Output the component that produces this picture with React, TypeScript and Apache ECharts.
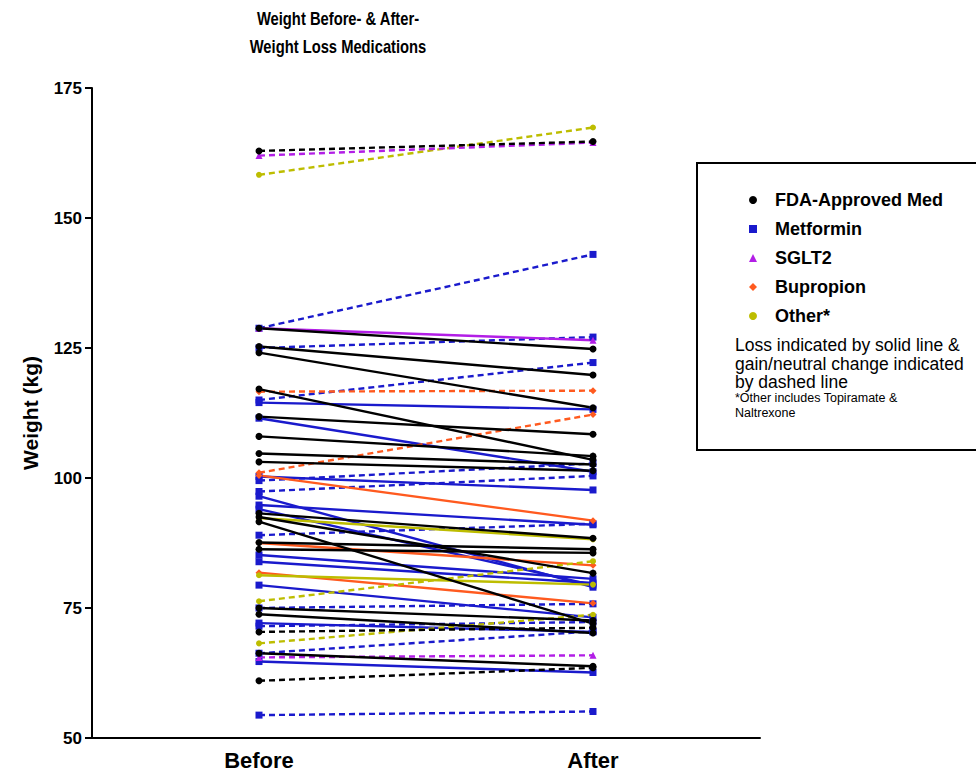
import React, { useEffect, useRef } from "react";
import * as echarts from "echarts";

const categories = ["Before", "After"];
const yTicks = [50, 75, 100, 125, 150, 175];

const groupNames = ["FDA-Approved Med", "Metformin", "SGLT2", "Bupropion", "Other*"];

const fdaBefore = [162.9, 128.8, 125.3, 124.1, 117.1, 111.8, 108.0, 104.7, 103.1, 93.2, 92.5, 91.6, 87.6, 86.3, 75.0, 73.8, 70.4, 66.3, 61.0];
const fdaAfter = [164.7, 124.8, 119.8, 113.5, 103.5, 108.4, 104.2, 102.6, 101.4, 88.4, 81.7, 72.0, 86.3, 85.6, 72.6, 70.2, 71.2, 63.8, 63.5];

const metBefore = [128.8, 125.0, 115.0, 114.5, 111.5, 100.3, 99.5, 97.4, 96.5, 94.8, 94.0, 89.0, 85.2, 83.9, 79.4, 75.0, 72.1, 71.5, 66.3, 64.7, 54.4];
const metAfter = [143.0, 127.1, 122.2, 113.2, 101.2, 97.7, 102.8, 100.4, 79.0, 91.0, 79.4, 91.2, 80.6, 79.8, 73.2, 75.8, 70.4, 72.3, 70.5, 62.6, 55.1];

const sgltBefore = [162.0, 128.8, 65.5];
const sgltAfter = [164.5, 126.5, 65.9];

const bupBefore = [116.6, 101.0, 100.5, 87.5, 81.8];
const bupAfter = [116.8, 112.2, 91.8, 83.2, 75.9];

const otherBefore = [158.3, 92.3, 81.3, 76.3, 68.2];
const otherAfter = [167.4, 88.2, 79.5, 84.0, 73.7];

const titleLines = ["Weight Before- & After-", "Weight Loss Medications"];
const noteLines = [
  "Loss indicated by solid line &",
  "gain/neutral change indicated",
  "by dashed line",
];
const footLines = ["*Other includes Topiramate &", "Naltrexone"];

const FONT = "'Liberation Sans', Arial, Helvetica, sans-serif";

const groups = [
  { name: groupNames[1], before: metBefore, after: metAfter, color: "#1a1acc", symbol: "rect", size: 7 },
  { name: groupNames[3], before: bupBefore, after: bupAfter, color: "#ff5a1f", symbol: "diamond", size: 7 },
  { name: groupNames[4], before: otherBefore, after: otherAfter, color: "#bdbd00", symbol: "circle", size: 6 },
  { name: groupNames[2], before: sgltBefore, after: sgltAfter, color: "#b21ee6", symbol: "triangle", size: 7 },
  { name: groupNames[0], before: fdaBefore, after: fdaAfter, color: "#000000", symbol: "circle", size: 7 },
];

export default function App() {
  const ref = useRef<HTMLDivElement>(null);
  useEffect(() => {
    if (!ref.current) return;
    const chart = echarts.init(ref.current, null, { renderer: "svg" });
    const series: any[] = [];
    groups.forEach((g) => {
      g.before.forEach((b, i) => {
        const a = g.after[i];
        series.push({
          type: "line",
          name: g.name,
          data: [b, a],
          symbol: g.symbol,
          symbolSize: g.size,
          showSymbol: true,
          color: g.color,
          itemStyle: { color: g.color },
          lineStyle: { color: g.color, width: 2.4, type: a >= b ? [6, 4] : "solid" },
          emphasis: { disabled: true },
          silent: true,
        });
      });
    });
    const legendIcons: Record<string, string> = {
      "FDA-Approved Med": "circle",
      Metformin: "rect",
      SGLT2: "triangle",
      Bupropion: "diamond",
      "Other*": "circle",
    };
    const graphics: any[] = [];
    titleLines.forEach((t, i) => {
      graphics.push({
        type: "text",
        x: 338,
        y: 18 + i * 28,
        scaleX: 0.82,
        style: {
          text: t,
          font: `bold 18px ${FONT}`,
          fill: "#000",
          textAlign: "center",
          textVerticalAlign: "middle",
        },
      });
    });
    graphics.push({
      type: "rect",
      shape: { x: 697, y: 163, width: 300, height: 287 },
      style: { fill: "none", stroke: "#000", lineWidth: 2 },
      z: 10,
    });
    noteLines.forEach((t, i) => {
      graphics.push({
        type: "text",
        x: 735,
        y: 345 + i * 18.5,
        style: { text: t, font: `17.5px ${FONT}`, fill: "#000", textVerticalAlign: "middle" },
      });
    });
    footLines.forEach((t, i) => {
      graphics.push({
        type: "text",
        x: 735,
        y: 398 + i * 14.5,
        style: { text: t, font: `12.5px ${FONT}`, fill: "#000", textVerticalAlign: "middle" },
      });
    });
    chart.setOption({
      animation: false,
      backgroundColor: "#fff",
      grid: { left: 92, top: 88, width: 668, height: 650 },
      legend: {
        orient: "vertical",
        left: 744,
        top: 186,
        itemWidth: 8,
        itemHeight: 8,
        itemGap: 11,
        selectedMode: false,
        data: groupNames.map((n) => ({ name: n, icon: legendIcons[n] })),
        textStyle: {
          fontFamily: FONT,
          fontWeight: "bold",
          fontSize: 18,
          lineHeight: 18,
          color: "#000",
          padding: [0, 0, 0, 13],
        },
      },
      xAxis: {
        type: "category",
        data: categories,
        boundaryGap: true,
        axisLine: { lineStyle: { color: "#000", width: 2 } },
        axisTick: { alignWithLabel: true, length: 7, lineStyle: { color: "#000", width: 2 } },
        axisLabel: { fontFamily: FONT, fontWeight: "bold", fontSize: 22, color: "#000", margin: 11 },
        splitLine: { show: false },
      },
      yAxis: {
        type: "value",
        min: yTicks[0],
        max: yTicks[yTicks.length - 1],
        interval: 25,
        name: "Weight (kg)",
        nameLocation: "middle",
        nameRotate: 90,
        nameGap: 51,
        nameTextStyle: { fontFamily: FONT, fontWeight: "bold", fontSize: 21, color: "#000" },
        axisLine: { show: true, lineStyle: { color: "#000", width: 2 } },
        axisTick: { show: true, length: 7, lineStyle: { color: "#000", width: 2 } },
        axisLabel: { fontFamily: FONT, fontWeight: "bold", fontSize: 17, color: "#000", margin: 10 },
        splitLine: { show: false },
      },
      graphic: graphics,
      series,
    });
    return () => chart.dispose();
  }, []);
  return (
    <div
      ref={ref}
      style={{ position: "absolute", left: 0, top: 0, width: 976, height: 773 }}
    />
  );
}
